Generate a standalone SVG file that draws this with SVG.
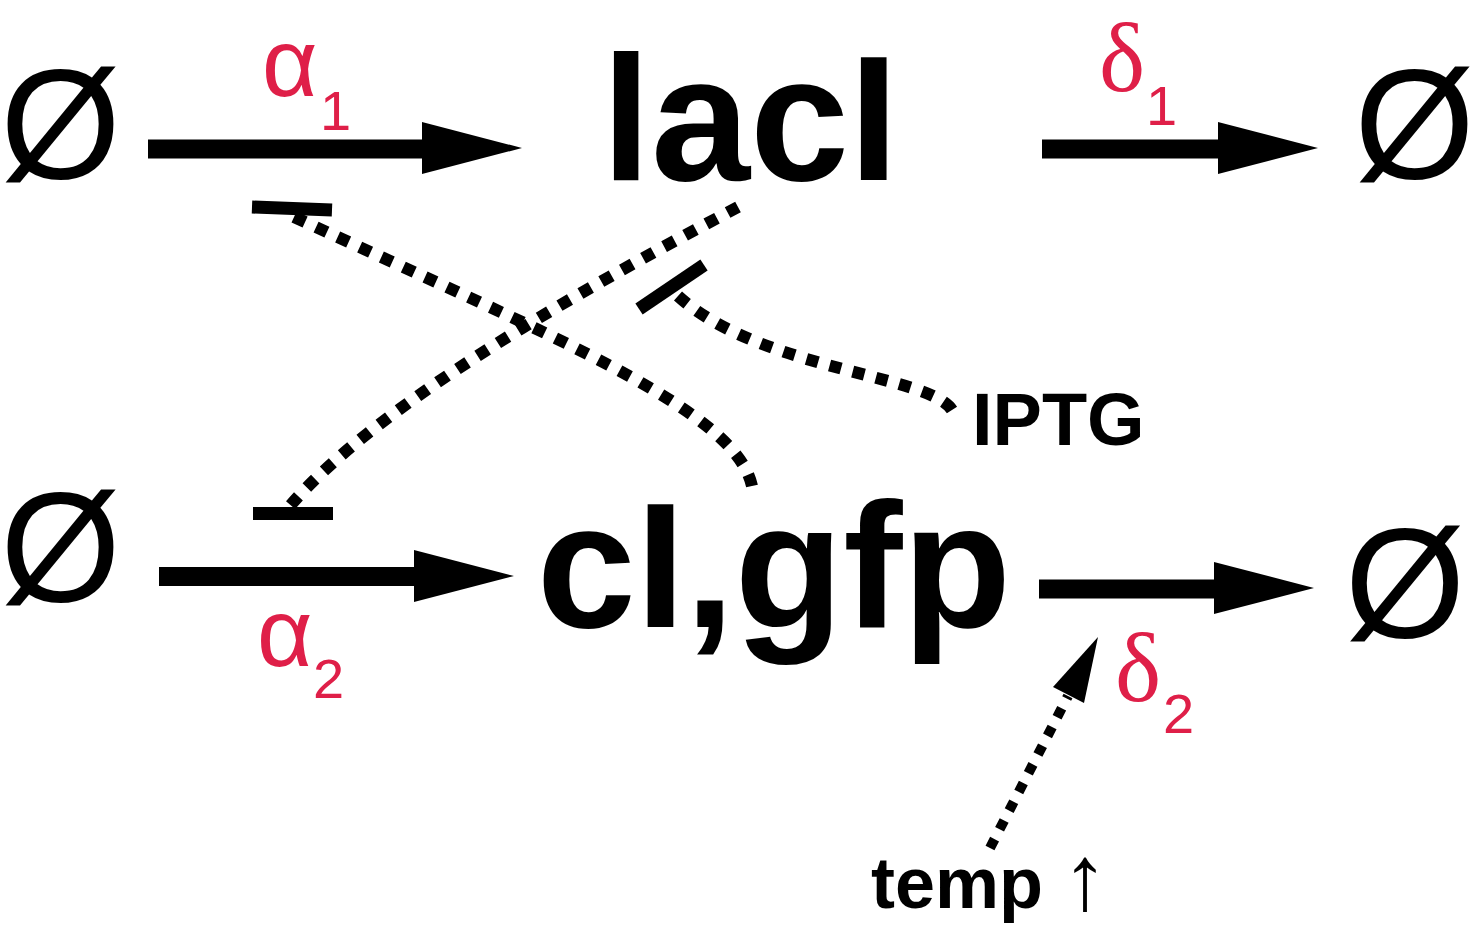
<svg xmlns="http://www.w3.org/2000/svg" xmlns:xlink="http://www.w3.org/1999/xlink" width="1474" height="931" viewBox="0 0 1474 931">
  <style>
    .empty { font-family: "Liberation Sans", Arial, sans-serif; font-size: 155px; fill: #000; text-anchor: middle; }
    .species { font-family: "Liberation Sans", Arial, sans-serif; font-weight: bold; font-size: 178px; fill: #000; text-anchor: middle; }
    .small { font-family: "Liberation Sans", Arial, sans-serif; font-weight: bold; font-size: 74px; fill: #000; }
    .greek { font-family: "Liberation Sans", Arial, sans-serif; font-size: 96px; fill: #DF1F48; }
    .greekd { font-family: "Liberation Serif", "Times New Roman", serif; font-size: 98px; fill: #DF1F48; }
    .sub { font-family: "Liberation Sans", Arial, sans-serif; font-size: 56px; fill: #DF1F48; }
    .shaft { stroke: #000; stroke-width: 19; fill: none; }
    .bar { stroke: #000; stroke-width: 13; fill: none; }
    .dots { stroke: #000; stroke-width: 12; fill: none; stroke-dasharray: 12 12; }
    .dots2 { stroke: #000; stroke-width: 10; fill: none; stroke-dasharray: 10 11; }
  </style>
  <defs>
    <path id="head" d="M0,-26 L100,0 L0,26 Z" fill="#000"/>
  </defs>
  <rect width="1474" height="931" fill="#fff"/>

  <g id="connectors">
    <g id="arrow-alpha1">
      <line class="shaft" x1="148" y1="149" x2="424" y2="149"/>
      <use xlink:href="#head" href="#head" transform="translate(422,148)"/>
      <text class="greek" x="262" y="96">α</text>
      <text class="sub" x="320" y="130">1</text>
    </g>
    <g id="arrow-delta1">
      <line class="shaft" x1="1042" y1="149" x2="1220" y2="149"/>
      <use xlink:href="#head" href="#head" transform="translate(1218,148)"/>
      <text class="greekd" x="1099" y="91">δ</text>
      <text class="sub" x="1146" y="125">1</text>
    </g>
    <g id="arrow-alpha2">
      <line class="shaft" x1="159" y1="576.5" x2="416" y2="576.5"/>
      <use xlink:href="#head" href="#head" transform="translate(414,576)"/>
      <text class="greek" x="257" y="666">α</text>
      <text class="sub" x="313" y="698">2</text>
    </g>
    <g id="arrow-delta2">
      <line class="shaft" x1="1039" y1="589" x2="1216" y2="589"/>
      <use xlink:href="#head" href="#head" transform="translate(1214,588)"/>
      <text class="greekd" x="1115" y="701">δ</text>
      <text class="sub" x="1163" y="733">2</text>
    </g>
    <g id="inhibit-cI-alpha1">
      <path class="dots" d="M752,486 C735,410 560,340 292,216"/>
      <line class="bar" x1="252" y1="207" x2="332" y2="210"/>
    </g>
    <g id="inhibit-lacI-alpha2">
      <path class="dots" d="M738,207 C600,280 380,400 289,507"/>
      <line class="bar" x1="253" y1="513.5" x2="333" y2="513.5"/>
    </g>
    <g id="inhibit-IPTG-lacI">
      <path class="dots" d="M952,410 C930,375 760,370 678,296"/>
      <line class="bar" x1="639" y1="309" x2="704" y2="265"/>
    </g>
    <g id="activate-temp-delta2">
      <path class="dots2" d="M990,848 L1068,696"/>
      <polygon points="1098,637 1053,687 1084,703" fill="#000"/>
    </g>
  </g>

  <g id="node-empty-tl"><text class="empty" x="60.5" y="178">Ø</text></g>
  <g id="node-lacI"><text class="species" x="750" y="180">lacI</text></g>
  <g id="node-empty-tr"><text class="empty" x="1414.5" y="178">Ø</text></g>
  <g id="node-empty-bl"><text class="empty" x="60.5" y="601">Ø</text></g>
  <g id="node-cIgfp"><text class="species" x="774" y="627">cI,gfp</text></g>
  <g id="node-empty-br"><text class="empty" x="1405" y="637">Ø</text></g>
  <g id="node-IPTG"><text class="small" x="972" y="445">IPTG</text></g>
  <g id="node-temp">
    <text class="small" x="871" y="908" style="font-size:72px">temp</text>
    <text x="1085" y="909" style="font-family:'Liberation Sans', Arial, sans-serif; font-size:92px; text-anchor:middle; fill:#000">↑</text>
  </g>
</svg>
